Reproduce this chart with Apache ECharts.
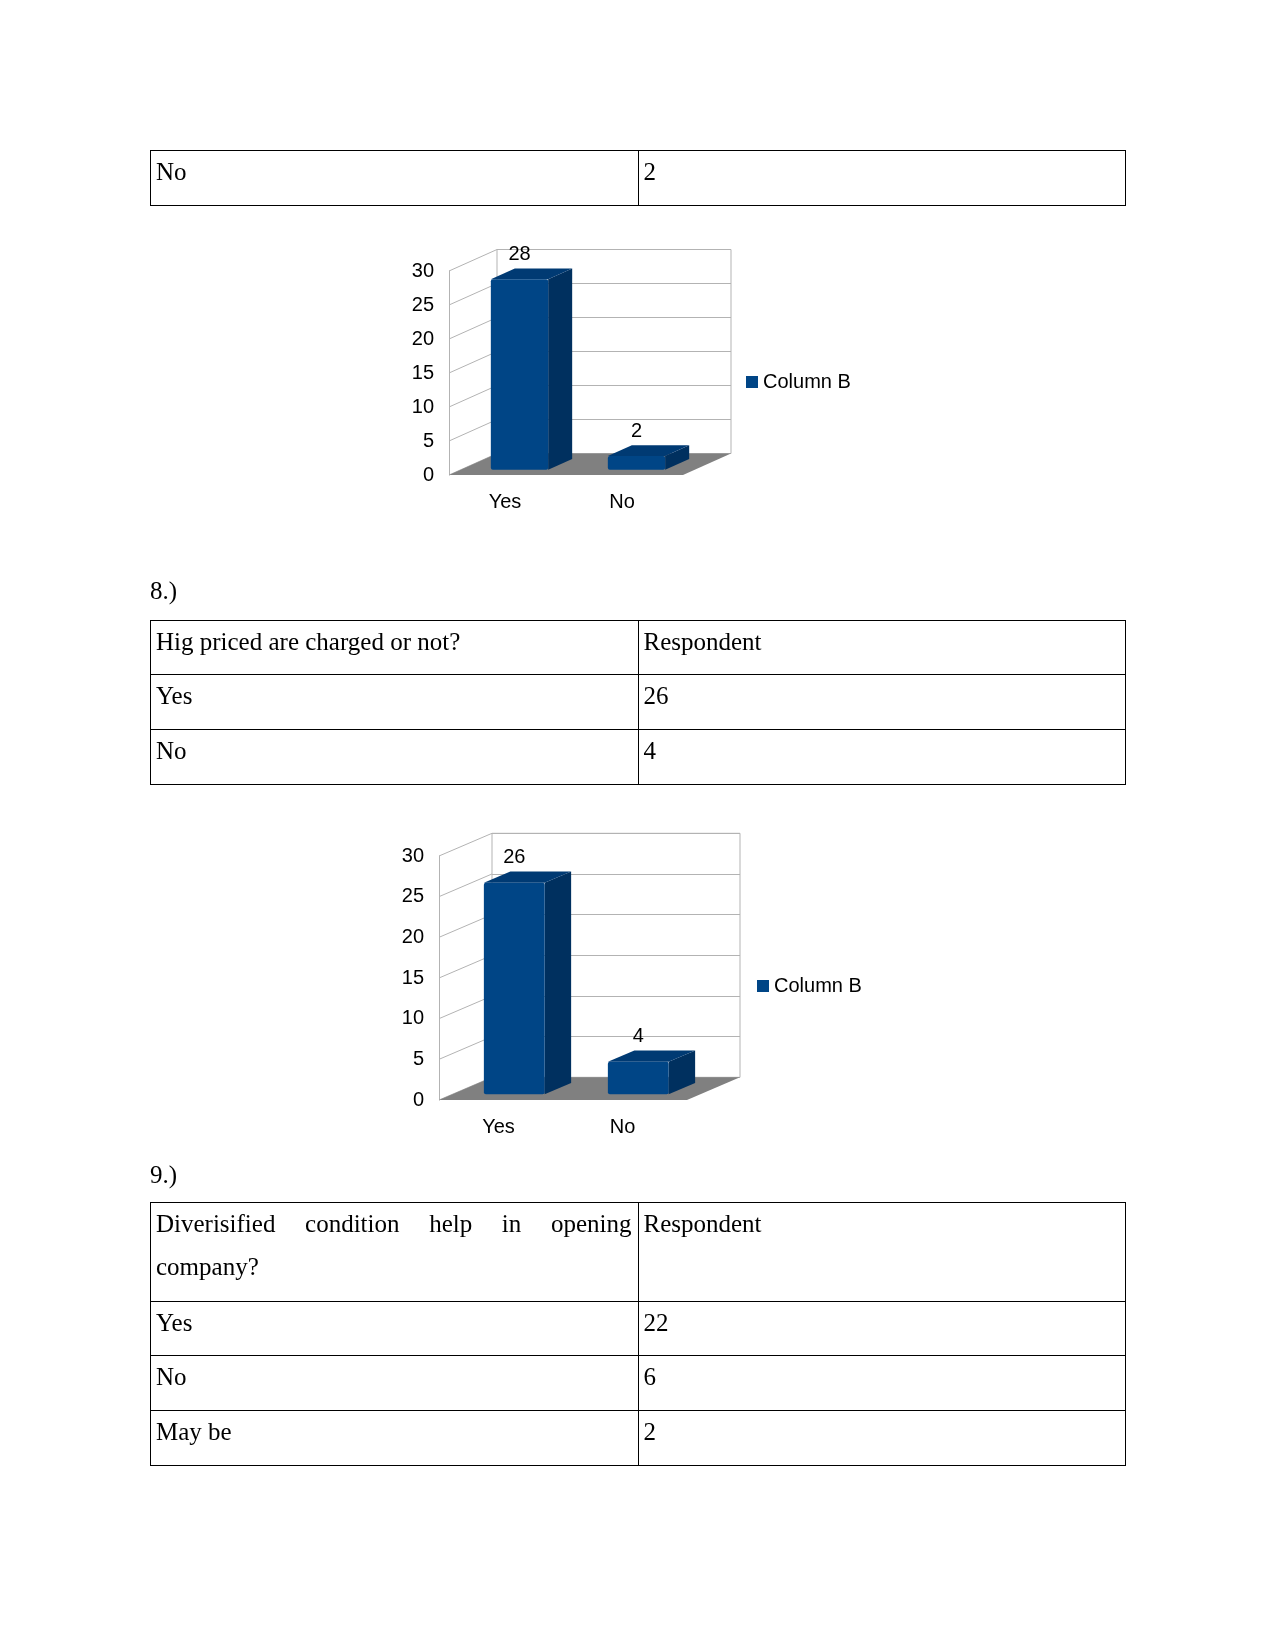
<!DOCTYPE html>
<html>
<head>
<meta charset="utf-8">
<title>Survey responses</title>
<script src="https://cdn.jsdelivr.net/npm/echarts@6/dist/echarts.min.js"></script>
<style>
html, body {margin: 0; padding: 0; background: #fff;}
#page {position: relative; width: 1275px; height: 1650px; overflow: hidden;}
#chart {position: absolute; left: 0; top: 0; width: 1275px; height: 1650px;}
.para {position: absolute; left: 150px; font-family: 'Liberation Serif', serif; font-size: 25px; line-height: 42px; color: #000;}
.tbl {position: absolute; left: 150px; width: 976px; border-collapse: collapse; table-layout: fixed;
      font-family: 'Liberation Serif', serif; font-size: 25px; color: #000;}
.tbl td {border: 1px solid #000; padding: 0 6px 0 5px; vertical-align: top; line-height: 43px; overflow: hidden;}
.tbl td div {margin-top: -1px;}
.tbl td.q div {text-align: justify;}
</style>
</head>
<body>
<div id="page">
    <div id="chart"></div>
    <div class="para" style="top:570px">8.)</div>
    <div class="para" style="top:1154px">9.)</div>
    <table class="tbl" id="tbl7" style="top:150px"></table>
    <table class="tbl" id="tbl8" style="top:620px"></table>
    <table class="tbl" id="tbl9" style="top:1202px"></table>
</div>
<script>
// table contents
var tbl7Rows = [['No', '2']];
var tbl8Rows = [['Hig priced are charged or not?', 'Respondent'], ['Yes', '26'], ['No', '4']];
var tbl9Rows = [['Diverisified condition help in opening company?', 'Respondent'], ['Yes', '22'], ['No', '6'], ['May be', '2']];

// chart data
var seriesName = 'Column B';
var q7Cats = ['Yes', 'No'];
var q7Values = [28, 2];
var q8Cats = ['Yes', 'No'];
var q8Values = [26, 4];
var yTicks = [0, 5, 10, 15, 20, 25, 30];

// row heights (px)
var tbl7Heights = [55];
var tbl8Heights = [54, 55, 55];
var tbl9Heights = [99, 54, 55, 55];

var gridColor = '#b3b3b3';
var floorColor = '#808080';
var barFront = '#004586';
var barSide = '#00305f';
var barTop = '#003a73';
var fontSans = '"Liberation Sans", Arial, sans-serif';

function fillTable(id, rows, heights) {
    var html = '<colgroup><col style="width:50%"><col style="width:50%"></colgroup>';
    for (var i = 0; i < rows.length; i++) {
        html += '<tr style="height:' + heights[i] + 'px">';
        html += '<td class="q"><div>' + rows[i][0] + '</div></td><td><div>' + rows[i][1] + '</div></td></tr>';
    }
    document.getElementById(id).innerHTML = html;
}

fillTable('tbl7', tbl7Rows, tbl7Heights);
fillTable('tbl8', tbl8Rows, tbl8Heights);
fillTable('tbl9', tbl9Rows, tbl9Heights);

/**
 * one pseudo-3d column chart: front grid + back wall grid
 */
function addChart(opt, cats, values, box, depth, legendPos) {
    var g = opt.grid.length;
    var dx = depth.dx, dy = depth.dy;
    var f0 = 0.25, fd = 0.5, barRatio = 0.49;

    opt.grid.push({left: box.left, top: box.top, width: box.width, height: box.height});
    opt.grid.push({
        left: box.left + dx, top: box.top + dy, width: box.width, height: box.height,
        show: true, borderColor: gridColor, borderWidth: 1, backgroundColor: 'transparent'
    });

    opt.xAxis.push({
        type: 'category', gridIndex: g, data: cats,
        axisLine: {show: false}, axisTick: {show: false},
        axisLabel: {margin: 17, fontSize: 20, color: '#000', fontFamily: fontSans, padding: [0, 5, 0, 0]}
    });
    opt.xAxis.push({type: 'category', gridIndex: g + 1, data: cats, show: false});

    opt.yAxis.push({
        type: 'value', gridIndex: g, min: 0, max: 30, interval: 5,
        axisLine: {show: true, lineStyle: {color: gridColor, width: 1}},
        axisTick: {show: false}, splitLine: {show: false},
        axisLabel: {margin: 15, fontSize: 20, color: '#000', fontFamily: fontSans}
    });
    opt.yAxis.push({
        type: 'value', gridIndex: g + 1, min: 0, max: 30, interval: 5,
        axisLine: {show: false}, axisTick: {show: false}, axisLabel: {show: false},
        splitLine: {show: true, lineStyle: {color: gridColor, width: 1}}
    });

    // slanted lines on the left wall
    opt.series.push({
        type: 'custom', name: 'wall', xAxisIndex: g, yAxisIndex: g, z: 1, silent: true,
        data: yTicks.map(function (v) { return [0, v]; }),
        renderItem: function (params, api) {
            var p = api.coord([0, api.value(1)]);
            var x = p[0] - api.size([1, 0])[0] / 2;
            return {
                type: 'line',
                shape: {x1: x, y1: p[1], x2: x + dx, y2: p[1] + dy},
                style: {stroke: gridColor, lineWidth: 1}
            };
        }
    });

    // floor
    opt.series.push({
        type: 'custom', name: 'floor', xAxisIndex: g, yAxisIndex: g, z: 2, silent: true,
        data: [[0, 0]],
        renderItem: function (params, api) {
            var a = api.coord([0, 0]);
            var b = api.coord([cats.length - 1, 0]);
            var half = api.size([1, 0])[0] / 2;
            var l = a[0] - half, r = b[0] + half, y = a[1];
            return {
                type: 'polygon',
                shape: {points: [[l, y], [r, y], [r + dx, y + dy], [l + dx, y + dy]]},
                style: {fill: floorColor}
            };
        }
    });

    // bars
    opt.series.push({
        type: 'custom', name: seriesName, xAxisIndex: g, yAxisIndex: g, z: 3,
        itemStyle: {color: barFront},
        data: values.map(function (v, i) { return [i, v]; }),
        renderItem: function (params, api) {
            var i = params.dataIndex;
            var v = api.value(1);
            var top = api.coord([i, v]);
            var base = api.coord([i, 0]);
            var w = api.size([1, 0])[0] * barRatio;
            var x0 = top[0] - w / 2 + dx * f0;
            var yT = top[1] + dy * f0;
            var yB = base[1] + dy * f0;
            var sx = dx * fd, sy = dy * fd;
            return {
                type: 'group',
                children: [
                    {type: 'polygon', shape: {points: [[x0 + w, yT], [x0 + w + sx, yT + sy], [x0 + w + sx, yB + sy], [x0 + w, yB]]}, style: {fill: barSide}},
                    {type: 'polygon', shape: {points: [[x0, yT], [x0 + w, yT], [x0 + w + sx, yT + sy], [x0 + sx, yT + sy]]}, style: {fill: barTop}},
                    {type: 'rect', shape: {x: x0, y: yT, width: w, height: yB - yT, r: 2}, style: {fill: barFront}},
                    {type: 'text', x: x0 + w / 2, y: yT + sy - 14,
                        style: {text: String(v), fill: '#000', fontSize: 20, fontFamily: fontSans, align: 'center', verticalAlign: 'middle'}}
                ]
            };
        }
    });

    opt.legend.push({
        data: [seriesName], left: legendPos.left, top: legendPos.top, padding: 0,
        icon: 'rect', itemWidth: 12, itemHeight: 12, selectedMode: false,
        textStyle: {fontSize: 20, color: '#000', fontFamily: fontSans}
    });
}

var option = {
    animation: false,
    textStyle: {fontFamily: fontSans},
    grid: [],
    xAxis: [],
    yAxis: [],
    legend: [],
    series: []
};

addChart(option, q7Cats, q7Values, {left: 449, top: 271, width: 234, height: 204}, {dx: 48, dy: -21.5}, {left: 746, top: 372});
addChart(option, q8Cats, q8Values, {left: 439, top: 856, width: 248, height: 244}, {dx: 53, dy: -22.7}, {left: 757, top: 976});

var myChart = echarts.init(document.getElementById('chart'), null, {renderer: 'canvas'});
myChart.setOption(option);
</script>
</body>
</html>
